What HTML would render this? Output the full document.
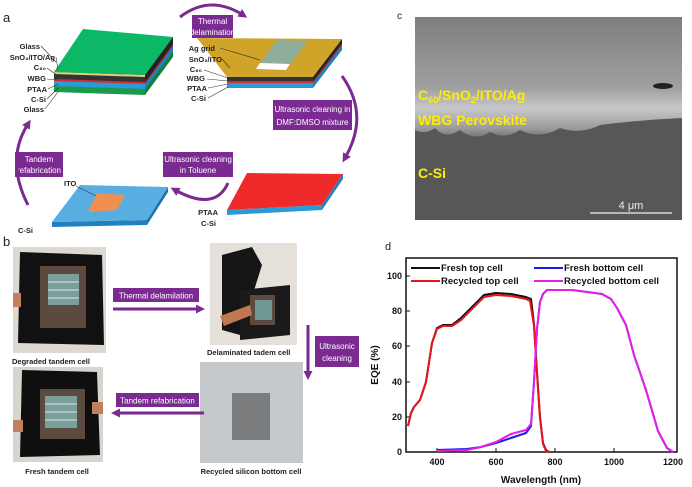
<!DOCTYPE html>
<html><head><meta charset="utf-8"><style>
html,body{margin:0;padding:0;background:#fff;}
svg{display:block;font-family:"Liberation Sans",sans-serif;}
.s{font-family:"Liberation Sans",sans-serif;font-size:7.5px;fill:#222;font-weight:bold}
.bx{fill:#7a2a91}
.bt{fill:#fff;font-size:8px;text-anchor:middle}
.ar{stroke:#7a2a91;fill:none;stroke-width:3}
</style></head><body>
<svg width="692" height="487" viewBox="0 0 692 487">
<defs>
<marker id="ah" markerUnits="userSpaceOnUse" markerWidth="9" markerHeight="9" refX="4" refY="4.5" orient="auto"><path d="M0,0 L9,4.5 L0,9 z" fill="#7a2a91"/></marker>
<linearGradient id="sem" x1="0" y1="0" x2="0" y2="1">
<stop offset="0" stop-color="#7e7e7e"/><stop offset="0.35" stop-color="#a0a0a0"/><stop offset="0.45" stop-color="#c8c8c8"/><stop offset="0.55" stop-color="#9a9a9a"/><stop offset="0.62" stop-color="#5a5a5a"/><stop offset="1" stop-color="#555"/></linearGradient>
</defs>
<!-- panel a -->
<text x="3" y="22" font-size="13" fill="#222">a</text>
<polygon points="54,72 145,75 145,95 54,92" fill="#1a9a4a"/>
<polygon points="145,75 173,37 173,57 145,95" fill="#118040"/>
<polygon points="54,72 145,75 145,89 54,86" fill="#2a9ad8"/>
<polygon points="145,75 173,37 173,51 145,89" fill="#2080c0"/>
<polygon points="54,72 145,75 145,84 54,81" fill="#d03030"/>
<polygon points="145,75 173,37 173,46 145,84" fill="#b02020"/>
<polygon points="54,72 145,75 145,82 54,79" fill="#333"/>
<polygon points="145,75 173,37 173,44 145,82" fill="#222"/>
<polygon points="54,72 145,75 145,77 54,74" fill="#e6d070"/>
<polygon points="83,29 173,37 145,75 54,72" fill="#0cb866"/>
<g class="s" text-anchor="end">
<text x="40" y="49">Glass</text><text x="55" y="60">SnO₂/ITO/Ag</text><text x="46" y="70">C₆₀</text>
<text x="46" y="81">WBG</text><text x="47" y="92">PTAA</text><text x="46" y="102">C-Si</text><text x="44" y="112">Glass</text></g>
<g stroke="#333" stroke-width="0.6"><line x1="41" y1="46" x2="56" y2="62"/><line x1="56" y1="57" x2="58" y2="70"/><line x1="47" y1="68" x2="58" y2="76"/><line x1="47" y1="79" x2="58" y2="80"/><line x1="48" y1="89" x2="58" y2="84"/><line x1="47" y1="99" x2="58" y2="88"/><line x1="45" y1="109" x2="58" y2="92"/></g>
<polygon points="227,77 313,77 313,88 227,88" fill="#2a9ad8"/>
<polygon points="313,77 342,39 342,50 313,88" fill="#2080c0"/>
<polygon points="227,77 313,77 313,83 227,83" fill="#d03030"/>
<polygon points="313,77 342,39 342,45 313,83" fill="#b02020"/>
<polygon points="227,77 313,77 313,81 227,81" fill="#333"/>
<polygon points="313,77 342,39 342,43 313,81" fill="#222"/>
<polygon points="197,38 342,39 313,77 227,77" fill="#d0a428"/>
<polygon points="277,40 308,41 290,64 260,63" fill="#8fae9a"/>
<polygon points="260,63 290,64 286,70 256,69" fill="#fff"/>
<g class="s" text-anchor="end"><text x="215" y="51">Ag grid</text><text x="222" y="62">SnO₂/ITO</text><text x="202" y="72">C₆₀</text><text x="205" y="81">WBG</text><text x="207" y="91">PTAA</text><text x="206" y="101">C-Si</text></g>
<g stroke="#333" stroke-width="0.6"><line x1="220" y1="48" x2="260" y2="60"/><line x1="222" y1="59" x2="230" y2="68"/><line x1="204" y1="70" x2="228" y2="78"/><line x1="207" y1="79" x2="228" y2="81"/><line x1="208" y1="88" x2="228" y2="84"/><line x1="208" y1="98" x2="228" y2="87"/></g>
<polygon points="227,210 322,205 322,210 227,215" fill="#2a9ad8"/>
<polygon points="322,205 343,174 343,179 322,210" fill="#2080c0"/>
<polygon points="247,173 343,174 322,205 227,210" fill="#ee2a2a"/>
<g class="s" text-anchor="end"><text x="218" y="215">PTAA</text><text x="216" y="226">C-Si</text></g>
<polygon points="52,222 147,220 147,225 52,227" fill="#2080c0"/>
<polygon points="147,220 168,187 168,192 147,225" fill="#1a70b0"/>
<polygon points="80,185 168,187 147,220 52,222" fill="#58aee0"/>
<polygon points="97,193 125,195 117,210 88,212" fill="#f09050"/>
<g class="s"><text x="64" y="186">ITO</text><text x="18" y="233">C-Si</text></g>
<line x1="76" y1="186" x2="96" y2="196" stroke="#333" stroke-width="0.6"/>
<rect class="bx" x="192" y="15" width="41" height="23"/>
<text class="bt" x="212.5" y="24">Thermal</text><text class="bt" x="212.5" y="35">delamination</text>
<rect class="bx" x="273" y="100" width="79" height="30"/>
<text class="bt" x="312.5" y="112">Ultrasonic cleaning in</text><text class="bt" x="312.5" y="125">DMF:DMSO mixture</text>
<rect class="bx" x="163" y="152" width="70" height="25"/>
<text class="bt" x="198" y="162">Ultrasonic cleaning</text><text class="bt" x="198" y="173">in Toluene</text>
<rect class="bx" x="15" y="152" width="48" height="25"/>
<text class="bt" x="39" y="162">Tandem</text><text class="bt" x="39" y="173">refabrication</text>
<path class="ar" d="M180,17 Q210,-6 243,15" marker-end="url(#ah)"/>
<path class="ar" d="M342,76 Q370,115 345,158" marker-end="url(#ah)"/>
<path class="ar" d="M228,183 Q215,212 175,190" marker-end="url(#ah)"/>
<path class="ar" d="M28,205 Q5,160 28,124" marker-end="url(#ah)"/>
<!-- panel b -->
<text x="3" y="246" font-size="13" fill="#222">b</text>
<rect x="13" y="247" width="93" height="106" fill="#ddd8d2"/>
<polygon points="20,252 102,255 104,345 18,343" fill="#111"/>
<rect x="40" y="266" width="46" height="62" fill="#5a4a40"/>
<rect x="48" y="274" width="31" height="31" fill="#7a9f9a"/>
<g stroke="#fff" stroke-width="0.8"><line x1="48" y1="282" x2="79" y2="282"/><line x1="48" y1="290" x2="79" y2="290"/><line x1="48" y1="298" x2="79" y2="298"/></g>
<rect x="13" y="293" width="8" height="14" fill="#c08060"/>
<rect x="210" y="243" width="87" height="102" fill="#e5e0da"/>
<polygon points="222,255 252,247 262,265 240,335 222,330" fill="#151515"/>
<polygon points="240,290 290,285 290,335 240,340" fill="#1a1a1a"/>
<rect x="250" y="295" width="25" height="30" fill="#5a4a40"/>
<rect x="255" y="300" width="17" height="20" fill="#6f9892"/>
<polygon points="220,316 250,305 252,315 224,326" fill="#c07850"/>
<rect x="200" y="362" width="103" height="101" fill="#c6c9cc"/>
<rect x="232" y="393" width="38" height="47" fill="#7a7c7e"/>
<rect x="13" y="367" width="90" height="95" fill="#d8d4d0"/>
<polygon points="22,370 97,372 100,455 20,457" fill="#0f0f0f"/>
<rect x="40" y="389" width="45" height="50" fill="#5a4a40"/>
<rect x="45" y="396" width="32" height="32" fill="#7a9f9a"/>
<g stroke="#fff" stroke-width="0.8"><line x1="45" y1="404" x2="77" y2="404"/><line x1="45" y1="412" x2="77" y2="412"/><line x1="45" y1="420" x2="77" y2="420"/></g>
<rect x="13" y="420" width="10" height="12" fill="#c08060"/><rect x="92" y="402" width="11" height="12" fill="#c08060"/>
<rect class="bx" x="113" y="288" width="86" height="14"/><text class="bt" x="156" y="298.5">Thermal delamilation</text>
<path class="ar" d="M113,309 L200,309" marker-end="url(#ah)"/>
<rect class="bx" x="315" y="336" width="44" height="31"/><text class="bt" x="337" y="349">Ultrasonic</text><text class="bt" x="337" y="361">cleaning</text>
<path class="ar" d="M308,325 L308,375" marker-end="url(#ah)"/>
<rect class="bx" x="116" y="393" width="83" height="14"/><text class="bt" x="157.5" y="403.5">Tandem refabrication</text>
<path class="ar" d="M204,413 L116,413" marker-end="url(#ah)"/>
<g class="s" font-size="8"><text x="12" y="364">Degraded tandem cell</text><text x="207" y="355">Delaminated tadem cell</text>
<text x="57" y="474" text-anchor="middle">Fresh tandem cell</text><text x="251" y="474" text-anchor="middle">Recycled silicon bottom cell</text></g>
<!-- panel c -->
<text x="397" y="19" font-size="10" fill="#222">c</text>
<rect x="415" y="17" width="267" height="203" fill="url(#sem)"/>
<path d="M415,130 Q425,135 435,128 Q445,140 460,130 Q475,142 490,132 Q505,140 520,130 Q540,140 560,128 Q580,135 600,125 Q640,120 682,118 L682,220 L415,220 z" fill="#575757"/>
<ellipse cx="663" cy="86" rx="10" ry="3" fill="#222"/>
<g fill="#ffee00" font-weight="bold" font-size="14">
<text x="418" y="100">C<tspan font-size="9" dy="3">60</tspan><tspan dy="-3">/SnO</tspan><tspan font-size="9" dy="3">2</tspan><tspan dy="-3">/ITO/Ag</tspan></text>
<text x="418" y="125">WBG Perovskite</text><text x="418" y="178">C-Si</text></g>
<line x1="590" y1="213" x2="672" y2="213" stroke="#eee" stroke-width="1.2"/>
<text x="631" y="209" fill="#eee" font-size="11" text-anchor="middle">4 μm</text>
<!-- panel d -->
<text x="385" y="250" font-size="11" fill="#222">d</text>
<rect x="406" y="258" width="271" height="194" fill="none" stroke="#111" stroke-width="1.5"/>
<g font-size="9" font-weight="bold" fill="#111" text-anchor="end">
<text x="402" y="455">0</text><text x="402" y="420">20</text><text x="402" y="385">40</text><text x="402" y="349">60</text><text x="402" y="314">80</text><text x="402" y="279">100</text></g>
<g font-size="9" font-weight="bold" fill="#111" text-anchor="middle">
<text x="437" y="465">400</text><text x="496" y="465">600</text><text x="555" y="465">800</text><text x="614" y="465">1000</text><text x="673" y="465">1200</text></g>
<g stroke="#111" stroke-width="1"><line x1="437" y1="452" x2="437" y2="448"/><line x1="496" y1="452" x2="496" y2="448"/><line x1="555" y1="452" x2="555" y2="448"/><line x1="614" y1="452" x2="614" y2="448"/>
<line x1="406" y1="417" x2="410" y2="417"/><line x1="406" y1="382" x2="410" y2="382"/><line x1="406" y1="346" x2="410" y2="346"/><line x1="406" y1="311" x2="410" y2="311"/><line x1="406" y1="276" x2="410" y2="276"/></g>
<text x="0" y="0" font-size="10" font-weight="bold" fill="#111" text-anchor="middle" transform="translate(378,365) rotate(-90)">EQE (%)</text>
<text x="541" y="483" font-size="10" font-weight="bold" fill="#111" text-anchor="middle">Wavelength (nm)</text>
<g fill="none" stroke-width="2" stroke-linejoin="round">
<polyline stroke="#111" points="408,426 411,413 414,407 420,400 426,382 432,343 437,328 443,325 452,325 461,318 473,306 484,295 496,293 511,294 526,297 531,299 534,324 537,372 540,417 543,443 546,450 549,452"/>
<polyline stroke="#e8141e" points="408,426 411,413 414,407 420,400 426,382 432,343 437,329 443,326 452,326 461,320 473,308 484,297 496,295 511,296 526,299 530,301 534,326 537,374 540,418 543,444 546,451 549,452"/>
<polyline stroke="#1b1bea" points="437,450 467,449 481,447 496,443 511,438 526,433 531,426 534,382 537,329 540,302 543,294 547,290 572,290 602,294 611,299 617,308 626,325 634,355 646,390 658,431 667,448 673,452"/>
<polyline stroke="#e61ee6" points="437,451 467,450 481,447 496,442 511,434 526,430 531,424 534,382 537,329 540,302 543,294 547,290 572,290 602,294 611,299 617,308 626,325 634,355 646,390 658,431 667,448 673,452"/>
</g>
<g font-size="9.5" font-weight="bold" fill="#111">
<line x1="411" y1="268" x2="440" y2="268" stroke="#111" stroke-width="2"/><text x="441" y="271">Fresh top cell</text>
<line x1="411" y1="281" x2="440" y2="281" stroke="#e8141e" stroke-width="2"/><text x="441" y="284">Recycled top cell</text>
<line x1="534" y1="268" x2="563" y2="268" stroke="#1b1bea" stroke-width="2"/><text x="564" y="271">Fresh bottom cell</text>
<line x1="534" y1="281" x2="563" y2="281" stroke="#e61ee6" stroke-width="2"/><text x="564" y="284">Recycled bottom cell</text></g>
</svg>
</body></html>
